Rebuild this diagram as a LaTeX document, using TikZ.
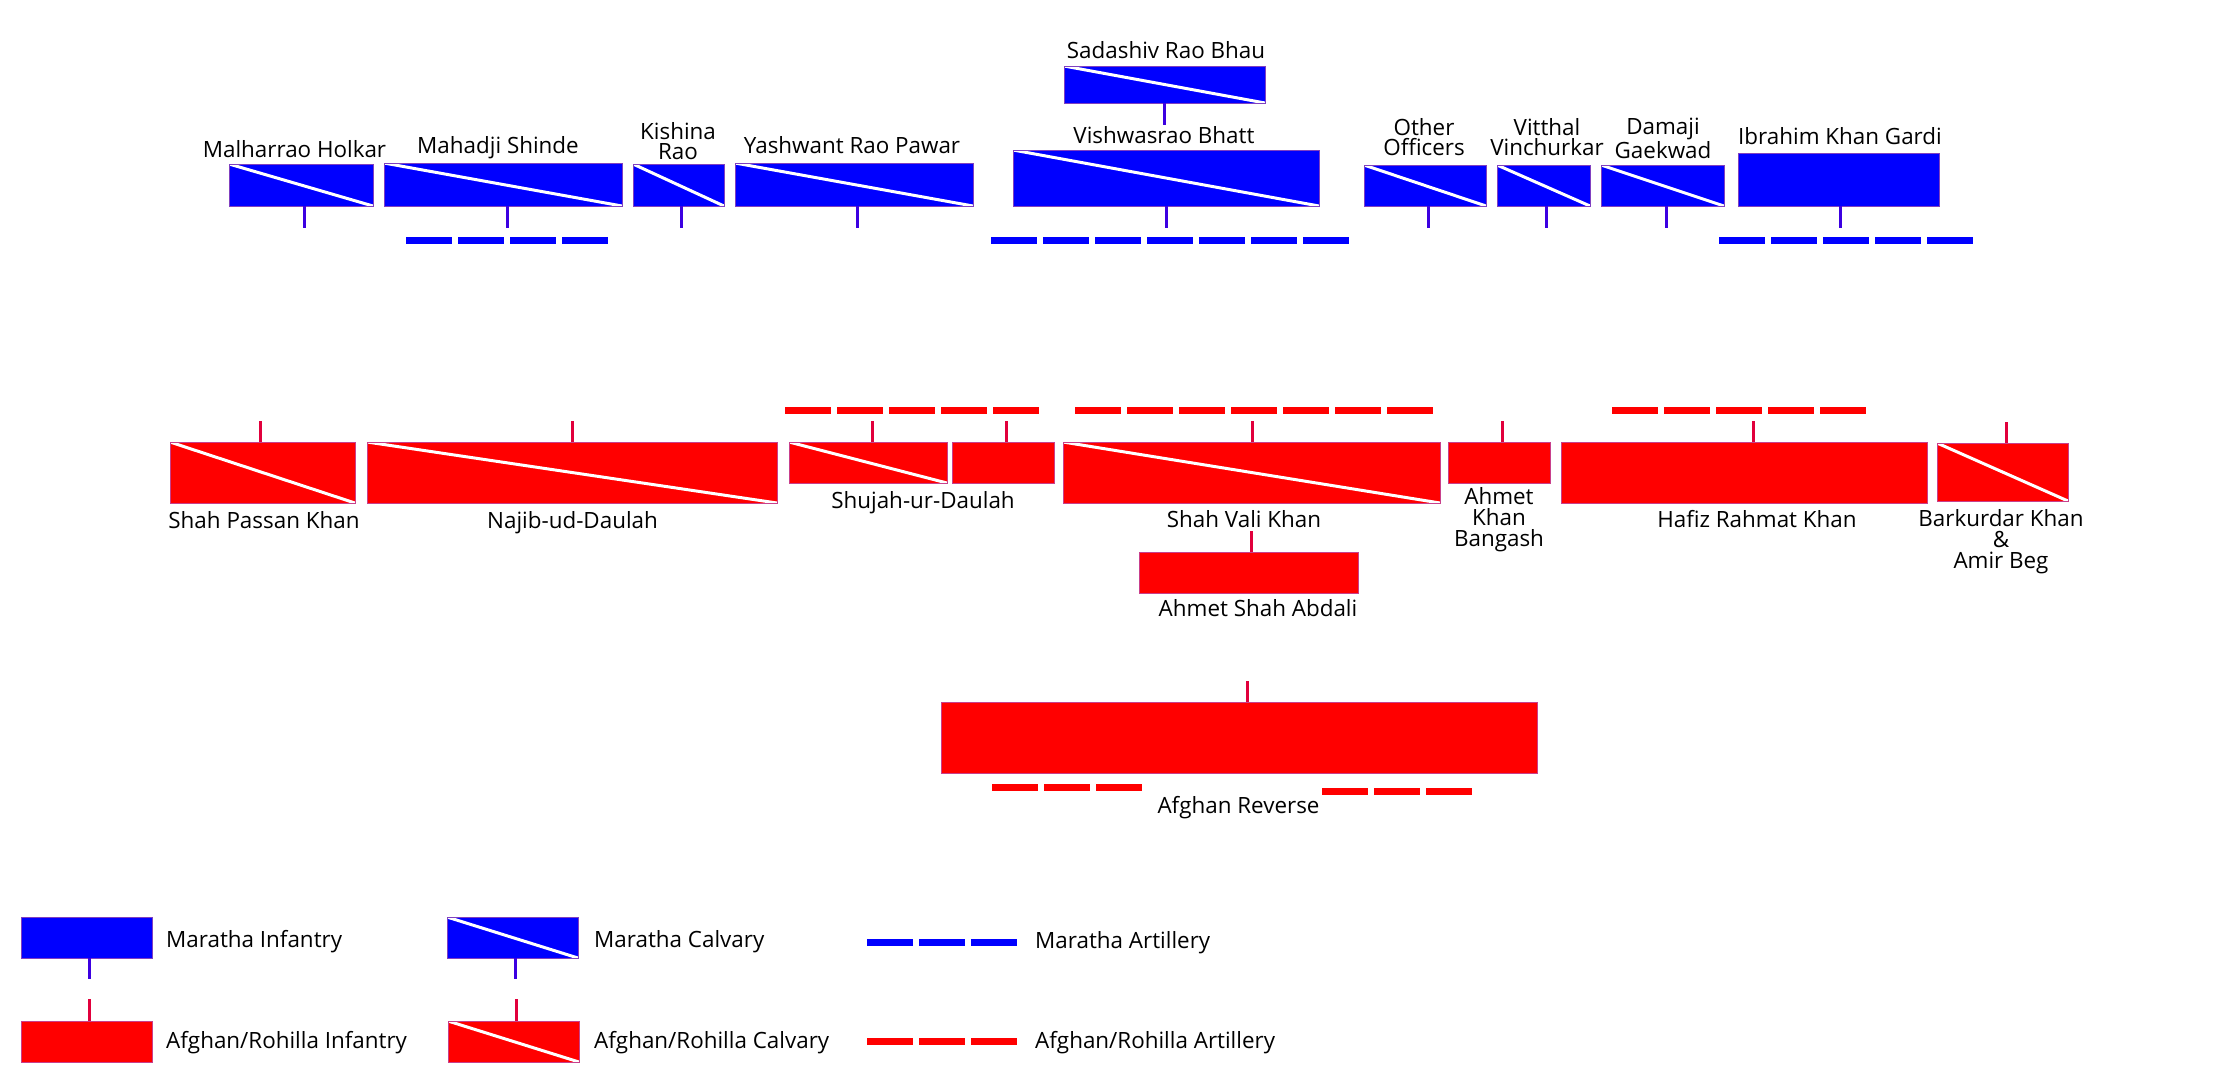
\documentclass[tikz,border=0pt]{standalone}
\usepackage{fontspec}
\setmainfont{Open Sans}
\usepackage{xcolor}
\usetikzlibrary{positioning}

\definecolor{marfill}{RGB}{0,0,255}
\definecolor{maredge}{RGB}{128,64,192}
\definecolor{marstemc}{RGB}{60,0,225}
\definecolor{afgfill}{RGB}{255,0,0}
\definecolor{afgedge}{RGB}{200,64,140}
\definecolor{afgstemc}{RGB}{225,0,60}

\begin{document}
\begin{tikzpicture}[
      x=1pt,y=-1pt,
      unit/.style={draw,line width=0.8pt,inner sep=0pt,outer sep=0pt},
      marinf/.style={unit,draw=maredge,fill=marfill},
      afginf/.style={unit,draw=afgedge,fill=afgfill},
      cav/.style={path picture={\draw[white,line width=3pt] (path picture bounding box.north west) -- (path picture bounding box.south east);}},
      marcav/.style={marinf,cav},
      afgcav/.style={afginf,cav},
      marstem/.style={draw=marstemc,line width=3pt},
      afgstem/.style={draw=afgstemc,line width=3pt},
      marart/.style={draw=marfill,line width=7pt,dash pattern=on 45.5pt off 6.5pt},
      afgart/.style={draw=afgfill,line width=7pt,dash pattern=on 45.5pt off 6.5pt},
      lbl/.style={inner sep=0pt,anchor=base},
      lbls/.style={inner sep=0pt,anchor=north,align=center},
      leg/.style={inner sep=0pt,anchor=base west},
      every node/.style={font=\fontsize{22.4}{20}\selectfont}
]
\useasboundingbox (0,0) rectangle (2240,1080);

% Maratha line
\node[marcav,minimum width=144pt,minimum height=42pt] (holkar) at (301,185) {};
\node[marcav,minimum width=238pt,minimum height=43pt] (shinde) at (503,184.5) {};
\node[marcav,minimum width=91pt,minimum height=42pt] (kishina) at (678.5,185) {};
\node[marcav,minimum width=238pt,minimum height=43pt] (pawar) at (854,184.5) {};
\node[marcav,minimum width=201pt,minimum height=37pt] (bhau) at (1164.5,84.5) {};
\node[marcav,minimum width=306pt,minimum height=56pt] (vishwas) at (1166,178) {};
\node[marcav,minimum width=122pt,minimum height=41pt] (officers) at (1425,185.5) {};
\node[marcav,minimum width=93pt,minimum height=41pt] (vitthal) at (1543.5,185.5) {};
\node[marcav,minimum width=123pt,minimum height=41pt] (damaji) at (1662.5,185.5) {};
\node[marinf,minimum width=201pt,minimum height=53pt] (gardi) at (1838.5,179.5) {};

\node[lbl] (lholkar) at (294.5,157) {Malharrao Holkar};
\node[lbl] (lshinde) at (498,153) {Mahadji Shinde};
\node[lbls] (lkishina) at (678,122) {Kishina\\Rao};
\node[lbl] (lpawar) at (852,153) {Yashwant Rao Pawar};
\node[lbl] (lbhau) at (1166,58) {Sadashiv Rao Bhau};
\node[lbl] (lvishwas) at (1164,143) {Vishwasrao Bhatt};
\node[lbls] (lofficers) at (1424,118) {Other\\Officers};
\node[lbls] (lvitthal) at (1547,118) {Vitthal\\Vinchurkar};
\node[lbls] (ldamaji) at (1663,118) {Damaji\\Gaekwad};
\node[lbl] (lgardi) at (1840,144) {Ibrahim Khan Gardi};

\foreach \unit/\dx in {holkar/3,shinde/4,kishina/3,pawar/3,bhau/0,vishwas/0,officers/3,vitthal/3,damaji/4,gardi/2}
      \draw[marstem] ([xshift=\dx pt]\unit.south) -- ++(0,22);
\foreach \xa/\n in {406/4,991/7,1719/5}
      \draw[marart] (\xa,240) -- ++(\n*52-6.5,0);

% Afghan/Rohilla line
\node[afgcav,minimum width=185pt,minimum height=61pt] (passan) at (262.5,472.5) {};
\node[afgcav,minimum width=410pt,minimum height=61pt] (najib) at (572,472.5) {};
\node[afgcav,minimum width=158pt,minimum height=41pt] (shujahcav) at (868,462.5) {};
\node[afginf,minimum width=102pt,minimum height=41pt] (shujahinf) at (1003,462.5) {};
\node[afgcav,minimum width=377pt,minimum height=61pt] (valikhan) at (1251.5,472.5) {};
\node[afginf,minimum width=219pt,minimum height=41pt] (abdali) at (1248.5,572.5) {};
\node[afginf,minimum width=102pt,minimum height=41pt] (bangash) at (1499,462.5) {};
\node[afginf,minimum width=366pt,minimum height=61pt] (rahmat) at (1744,472.5) {};
\node[afgcav,minimum width=131pt,minimum height=58pt] (barkurdar) at (2002.5,472) {};
\node[afginf,minimum width=596pt,minimum height=71pt] (reserve) at (1239,737.5) {};

\node[lbl] (lpassan) at (264,528) {Shah Passan Khan};
\node[lbl] (lnajib) at (572.5,528) {Najib-ud-Daulah};
\node[lbl] (lshujah) at (923,508) {Shujah-ur-Daulah};
\node[lbl] (lvalikhan) at (1244,527) {Shah Vali Khan};
\node[lbl] (labdali) at (1258,616) {Ahmet Shah Abdali};
\node[lbls,font=\fontsize{22.4}{21}\selectfont] (lbangash) at (1499,487) {Ahmet\\Khan\\Bangash};
\node[lbl] (lrahmat) at (1757,527) {Hafiz Rahmat Khan};
\node[lbls,font=\fontsize{22.4}{21}\selectfont] (lbarkurdar) at (2001,509) {Barkurdar Khan\\\&\\Amir Beg};
\node[lbl] (lreserve) at (1238.5,813) {Afghan Reverse};

\foreach \unit/\dx in {passan/-2,najib/0,shujahcav/4,shujahinf/3,valikhan/1,abdali/3,bangash/3,rahmat/9,barkurdar/4,reserve/8}
      \draw[afgstem] ([xshift=\dx pt]\unit.north) -- ++(0,-21);
\foreach \xa/\ya/\n in {785/410.5/5,1075/410.5/7,1612/410.5/5,992/787.5/3,1322/791/3}
      \draw[afgart] (\xa,\ya) -- ++(\n*52-6.5,0);

% legend
\node[marinf,minimum width=131pt,minimum height=41pt] (legmi) at (86.5,937.5) {};
\node[afginf,minimum width=131pt,minimum height=41pt] (legai) at (86.5,1041.5) {};
\node[marcav,minimum width=131pt,minimum height=41pt] (legmc) at (512.5,937.5) {};
\node[afgcav,minimum width=131pt,minimum height=41pt] (legac) at (513.5,1041.5) {};
\foreach \unit in {legmi,legmc}
      \draw[marstem] ([xshift=3pt]\unit.south) -- ++(0,21);
\foreach \unit in {legai,legac}
      \draw[afgstem] ([xshift=3pt]\unit.north) -- ++(0,-22);
\draw[marart] (867,942.5) -- ++(3*52-6.5,0);
\draw[afgart] (867,1041) -- ++(3*52-6.5,0);

\node[leg] (lmi) at (166,947) {Maratha Infantry};
\node[leg] (lai) at (166,1048) {Afghan/Rohilla Infantry};
\node[leg] (lmc) at (594,947) {Maratha Calvary};
\node[leg] (lac) at (594,1048) {Afghan/Rohilla Calvary};
\node[leg] (lma) at (1035,948) {Maratha Artillery};
\node[leg] (laa) at (1035,1048) {Afghan/Rohilla Artillery};
\end{tikzpicture}
\end{document}
